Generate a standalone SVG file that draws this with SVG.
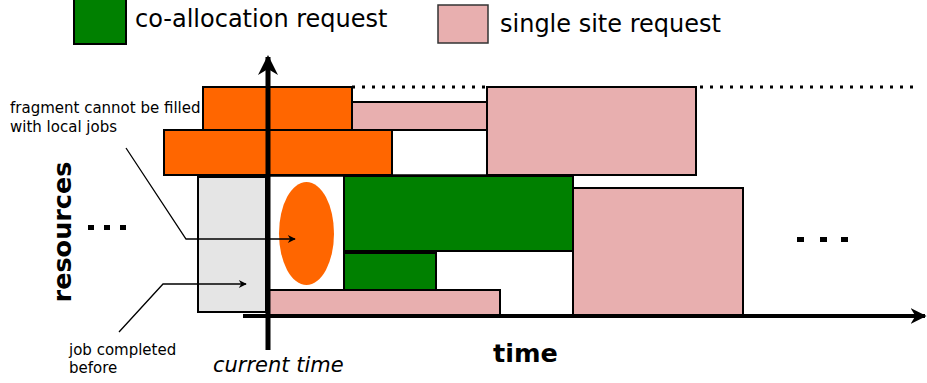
<svg xmlns="http://www.w3.org/2000/svg" width="927" height="383" viewBox="0 0 927 383">
<style>
.b{stroke:#000;stroke-width:2}
.or{fill:#ff6600}.gr{fill:#008000}.pk{fill:#e8afaf}.gy{fill:#e5e5e5}.wh{fill:#fff}
text{font-family:"DejaVu Sans",sans-serif;fill:#000}
.lg{font-size:24px}
.sm{font-size:15px}
.bd{font-size:25.5px;font-weight:bold}
.it{font-size:21px;font-style:italic}
.ln{fill:none;stroke:#000;stroke-width:1.3}
</style>
<defs>
<marker id="ah" viewBox="0 0 10 10" refX="9" refY="5" markerWidth="10" markerHeight="8" markerUnits="userSpaceOnUse" orient="auto"><path d="M0,0 L10,5 L0,10 L3,5 Z" fill="#000"/></marker>
<marker id="axh" viewBox="0 0 10 10" refX="9" refY="5" markerWidth="4" markerHeight="4" orient="auto"><path d="M0,0 L10,5 L0,10 L3,5 Z" fill="#000"/></marker>
</defs>
<g id="legend">
<rect class="gr b" x="74" y="-1" width="52" height="45" stroke-width="1.5"/>
<text class="lg" x="135" y="27">co-allocation request</text>
<rect class="pk" x="438" y="5" width="50" height="38" stroke="#333" stroke-width="1.5"/>
<text class="lg" x="500" y="32">single site request</text>
</g>
<g id="dotted">
<line x1="352" y1="87" x2="486" y2="87" stroke="#000" stroke-width="3" stroke-dasharray="3 7"/>
<line x1="700" y1="87" x2="914" y2="87" stroke="#000" stroke-width="3" stroke-dasharray="3 7"/>
</g>
<g id="white-gap-top"><rect class="wh" x="392" y="130" width="95" height="45" stroke="#000" stroke-width="1.5"/></g>
<g id="white-gap-mid"><rect class="wh" x="268" y="176" width="76" height="114" stroke="#000" stroke-width="1.5"/></g>
<g id="orange-top"><rect class="or b" x="203" y="87" width="149" height="43"/></g>
<g id="pink-small"><rect class="pk b" x="352" y="102" width="135" height="28"/></g>
<g id="orange-2"><rect class="or b" x="164" y="130" width="228" height="45"/></g>
<g id="pink-big-top"><rect class="pk b" x="487" y="87" width="209" height="88"/></g>
<g id="gray-job"><rect class="gy b" x="198" y="177" width="68" height="135"/></g>
<g id="fragment"><ellipse cx="306.5" cy="233.5" rx="27.5" ry="51.5" fill="#ff6600"/></g>
<g id="green-big"><rect class="gr b" x="344" y="176" width="229" height="75"/></g>
<g id="green-small"><rect class="gr b" x="344" y="253" width="92" height="37"/></g>
<g id="pink-bottom"><rect class="pk b" x="269" y="290" width="231" height="25"/></g>
<g id="pink-right"><rect class="pk b" x="573" y="188" width="170" height="128"/></g>
<g id="dots">
<rect x="88" y="225" width="6" height="5"/><rect x="104" y="225" width="6" height="5"/><rect x="120" y="225" width="6" height="5"/>
<rect x="797" y="237" width="7" height="5"/><rect x="820" y="237" width="7" height="5"/><rect x="841" y="237" width="7" height="5"/>
</g>
<g id="connectors">
<line x1="243" y1="316" x2="925" y2="316" stroke="#000" stroke-width="4" marker-end="url(#axh)"/>
<line x1="268" y1="350" x2="268" y2="57" stroke="#000" stroke-width="5" marker-end="url(#axh)"/>
<polyline class="ln" points="126,148 186,239 295,239" marker-end="url(#ah)"/>
<polyline class="ln" points="119,332 163,284 246,284" marker-end="url(#ah)"/>
</g>
<g id="labels">
<text class="sm" x="10" y="113">fragment cannot be filled</text>
<text class="sm" x="10" y="132">with local jobs</text>
<text class="sm" x="69" y="355">job completed</text>
<text class="sm" x="69" y="373">before</text>
<text class="it" x="213" y="372">current time</text>
<text class="bd" x="493" y="362">time</text>
<text class="bd" transform="translate(71,232) rotate(-90)" text-anchor="middle">resources</text>
</g>
</svg>
